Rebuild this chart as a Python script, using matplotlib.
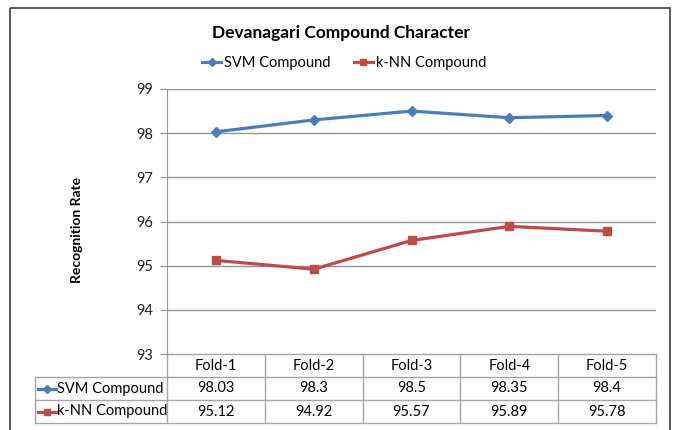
import matplotlib
matplotlib.use("Agg")
import matplotlib.pyplot as plt
from matplotlib.patches import Rectangle
from matplotlib.lines import Line2D

folds = ["Fold-1", "Fold-2", "Fold-3", "Fold-4", "Fold-5"]
svm_label = "SVM Compound"
knn_label = "k-NN Compound"
svm_vals = [98.03, 98.3, 98.5, 98.35, 98.4]
knn_vals = [95.12, 94.92, 95.57, 95.89, 95.78]
svm_text = ["98.03", "98.3", "98.5", "98.35", "98.4"]
knn_text = ["95.12", "94.92", "95.57", "95.89", "95.78"]
y_ticks = [93, 94, 95, 96, 97, 98, 99]

BLUE = "#4A7EBB"
RED = "#BE4B48"
GRID = "#949494"
TLINE = "#A6A6A6"

plt.rcParams["font.family"] = ["Lato", "DejaVu Sans"]

W, H = 676, 430
fig = plt.figure(figsize=(W / 100, H / 100), dpi=100)

# pixel layout of the plot area
x0, x1 = 167, 656
y_top, y_bot = 89, 354

ax = fig.add_axes([x0 / W, 1 - y_bot / H, (x1 - x0) / W, (y_bot - y_top) / H])
xs = list(range(len(folds)))
ax.plot(xs, svm_vals, color=BLUE, lw=2.3, marker="D", ms=5, label=svm_label)
ax.plot(xs, knn_vals, color=RED, lw=2.3, marker="s", ms=6, label=knn_label)
ax.set_xlim(-0.5, len(folds) - 0.5)
ax.set_ylim(93, 99)
ax.set_yticks(y_ticks)
ax.set_xticks([])
ax.grid(axis="y", color=GRID, lw=1)
ax.set_axisbelow(True)
for s in ["top", "right", "bottom"]:
    ax.spines[s].set_visible(False)
ax.spines["left"].set_color(GRID)
ax.tick_params(axis="y", direction="out", length=5, color=GRID, labelsize=10.5,
               pad=5, labelcolor="#222222")

fig.text(77 / W, 1 - 230 / H, "Recognition Rate", rotation=90, ha="center",
         va="center", fontsize=10, fontweight="bold")
fig.text(341 / W, 1 - 33 / H, "Devanagari Compound Character", ha="center",
         va="center", fontsize=12.5, fontweight="bold")
fig.legend(loc="center", bbox_to_anchor=(344 / W, 1 - 63 / H), ncol=2, frameon=False,
           fontsize=10.5, handlelength=1.3, columnspacing=1.6, handletextpad=0.2,
           markerscale=0.8)

# overlay in pixel coordinates for the data table and border
ov = fig.add_axes([0, 0, 1, 1], zorder=-1)
ov.set_xlim(0, W)
ov.set_ylim(H, 0)
ov.axis("off")
ov.add_patch(Rectangle((10, 8), 660, 430, fill=False, ec="#404040", lw=1.2))

tab_left = 35
rows = [354, 377, 400, 423]
col_w = (x1 - x0) / len(folds)
for i, ry in enumerate(rows):
    left = x0 if i == 0 else tab_left
    ov.plot([left, x1], [ry, ry], color=TLINE, lw=1)
for j in range(len(folds) + 1):
    ov.plot([x0 + j * col_w] * 2, [rows[0], rows[-1]], color=TLINE, lw=1)
ov.plot([tab_left, tab_left], [rows[1], rows[-1]], color=TLINE, lw=1)

for j, f in enumerate(folds):
    cx = x0 + (j + 0.5) * col_w
    ov.text(cx, (rows[0] + rows[1]) / 2, f, ha="center", va="center", fontsize=10.5)
    ov.text(cx, (rows[1] + rows[2]) / 2, svm_text[j], ha="center", va="center", fontsize=10.5)
    ov.text(cx, (rows[2] + rows[3]) / 2, knn_text[j], ha="center", va="center", fontsize=10.5)

for r, (lab, col, mk, ms) in enumerate([(svm_label, BLUE, "D", 4), (knn_label, RED, "s", 5)]):
    cy = (rows[r + 1] + rows[r + 2]) / 2
    ov.add_line(Line2D([38, 56], [cy, cy], color=col, lw=2.3))
    ov.add_line(Line2D([47], [cy], color=col, marker=mk, ms=ms))
    ov.text(57, cy, lab, ha="left", va="center", fontsize=10.5)

fig.savefig("out.png", dpi=100)
